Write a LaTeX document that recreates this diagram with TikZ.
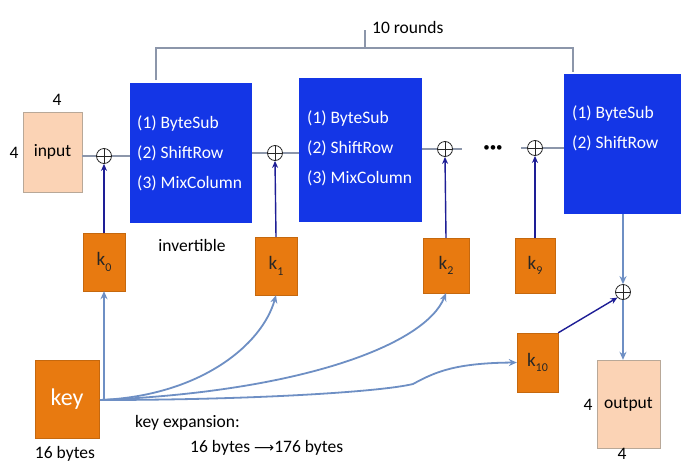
\documentclass[tikz,border=0pt]{standalone}
\usepackage{fontspec}
\setmainfont{Carlito}
\newfontfamily\arrowfont{DejaVu Sans}
\usetikzlibrary{arrows.meta}
\definecolor{rblue}{HTML}{1436E6}
\definecolor{korange}{HTML}{E87A10}
\definecolor{peach}{HTML}{FBD3B5}
\definecolor{peachb}{HTML}{B8A898}
\definecolor{navy}{HTML}{1E1E96}
\definecolor{lblue}{HTML}{6E8FC4}
\definecolor{gline}{HTML}{8C96AA}
\tikzset{
  rbox/.style={fill=rblue, draw=none, inner sep=0pt},
  rtext/.style={text=white, align=left, inner sep=0pt, anchor=north west, font=\fontsize{17.5}{30}\selectfont},
  kbox/.style={fill=korange, draw=korange!85!black, minimum width=42pt, minimum height=58pt, inner sep=0pt, text=black!85, font=\fontsize{19}{20}\selectfont},
  iobox/.style={fill=peach, draw=peachb, inner sep=0pt},
  xorn/.style={circle, draw=black!85, line width=0.8pt, minimum size=15pt, inner sep=0pt},
  lbl/.style={inner sep=0pt, font=\fontsize{17.5}{20}\selectfont},
  gconn/.style={draw=gline, line width=1.4pt},
  karrow/.style={draw=navy, line width=1.4pt, -{Stealth[length=7pt,width=6pt]}},
  larrow/.style={draw=lblue, line width=1.8pt, -{Stealth[length=8pt,width=7pt]}},
}
\newcommand{\ksub}[1]{k\raisebox{-0.3em}{\fontsize{12}{12}\selectfont #1}}
\begin{document}
\begin{tikzpicture}[x=1pt,y=-1pt]
\useasboundingbox[fill=white] (0,0) rectangle (683,464);

% input
\node[iobox, minimum width=59pt, minimum height=80pt] (in) at (52.5,152) {};
\node[lbl] (intext) at (in.center) {input};
\node[lbl] (in4t) at (57,100) {4};
\node[lbl] (in4l) at (14,153) {4};

% round boxes
\node[rbox, minimum width=122pt, minimum height=140pt] (b1) at (191,153) {};
\node[rtext] (t1) at (137,115) {(1) ByteSub\\(2) ShiftRow\\(3) MixColumn};
\node[rbox, minimum width=123pt, minimum height=144pt] (b2) at (360.5,150) {};
\node[rtext] (t2) at (307,110) {(1) ByteSub\\(2) ShiftRow\\(3) MixColumn};
\node[rbox, minimum width=117pt, minimum height=140pt] (b3) at (622.5,144) {};
\node[rtext] (t3) at (572,105) {(1) ByteSub\\(2) ShiftRow};

% xors
\node[xorn] (x1) at (104,156) {};
\node[xorn] (x2) at (275,153) {};
\node[xorn] (x3) at (445,149) {};
\node[xorn] (x4) at (535,148) {};
\node[xorn] (x5) at (623,292) {};
\foreach \n in {x1,x2,x3,x4,x5}{
  \draw[black!85, line width=0.8pt] (\n.north) -- (\n.south) (\n.west) -- (\n.east);
}
\node[inner sep=0pt, font=\fontsize{13}{13}\selectfont] (dots) at (493,149) {\textbullet\textbullet\textbullet};

% horizontal connectors
\draw[gconn] (in.east |- x1) -- (x1.west);
\draw[gconn] (x1.east) -- (x1.east -| b1.west);
\draw[gconn] (b1.east |- x2) -- (x2.west);
\draw[gconn] (x2.east) -- (x2.east -| b2.west);
\draw[gconn] (b2.east |- x3) -- (x3.west);
\draw[gconn] (x3.east) -- ++(9,0);
\draw[gconn] (x4.west) -- ++(-6,0);
\draw[gconn] (x4.east) -- (x4.east -| b3.west);

% bracket
\coordinate (brl) at (156,80);
\coordinate (brr) at (573,72);
\draw[gline, line width=1.2pt] (brl) -- (156,48) -- (573,48) -- (brr);
\draw[gline, line width=1.2pt] (365,48) -- (365,30);
\node[lbl, anchor=west] (rounds) at (372,27) {10 rounds};

% key boxes
\node[kbox] (k0) at (104,262) {\ksub{0}};
\node[kbox] (k1) at (276,266) {\ksub{1}};
\node[kbox, minimum width=46pt, minimum height=55pt] (k2) at (446,265.5) {\ksub{2}};
\node[kbox, minimum width=40pt, minimum height=55pt] (k9) at (535,265.5) {\ksub{9}};
\node[kbox, minimum width=41pt, minimum height=59pt] (k10) at (537.5,362.5) {\ksub{10}};

\draw[karrow] (k0.north) -- (x1.south);
\draw[karrow] (k1.north) -- (x2.south);
\draw[karrow] (k2.north) -- (x3.south);
\draw[karrow] (k9.north) -- (x4.south);
\draw[karrow] (k10.north east) -- (x5.south west);

\node[lbl] (inv) at (192,245) {invertible};

% key
\node[fill=korange, draw=korange!85!black, minimum width=64pt, minimum height=78pt, inner sep=0pt] (key) at (67,399) {};
\node[lbl, text=white, font=\fontsize{24}{26}\selectfont] (keyt) at (key.center) {key};
\node[lbl] (kb16) at (65,454) {16 bytes};
\coordinate (ks) at (100,400);

\draw[larrow] (ks -| k0.south) -- (k0.south);
\draw[larrow] (ks) .. controls (200,396) and (262,345) .. (k1.south);
\draw[larrow] (ks) .. controls (300,392) and (425,345) .. (k2.south);
\draw[larrow] (ks) .. controls (250,400) and (380,392) .. (413,384) .. controls (435,372) and (455,363) .. (k10.west);

\node[lbl, anchor=west] (kexp) at (135,423) {key expansion:};
\node[lbl, anchor=west] (kexp2) at (190,448) {16 bytes {\arrowfont\fontsize{14}{14}\selectfont ⟶}176 bytes};

% output
\node[iobox, minimum width=63pt, minimum height=88pt] (out) at (628.5,404) {};
\node[lbl] (outt) at (out.center) {output};
\node[lbl] (out4l) at (588,405) {4};
\node[lbl] (out4b) at (622,454) {4};
\draw[larrow] (b3.south -| x5) -- (x5.north);
\draw[larrow] (x5.south) -- (out.north -| x5);
\end{tikzpicture}
\end{document}
